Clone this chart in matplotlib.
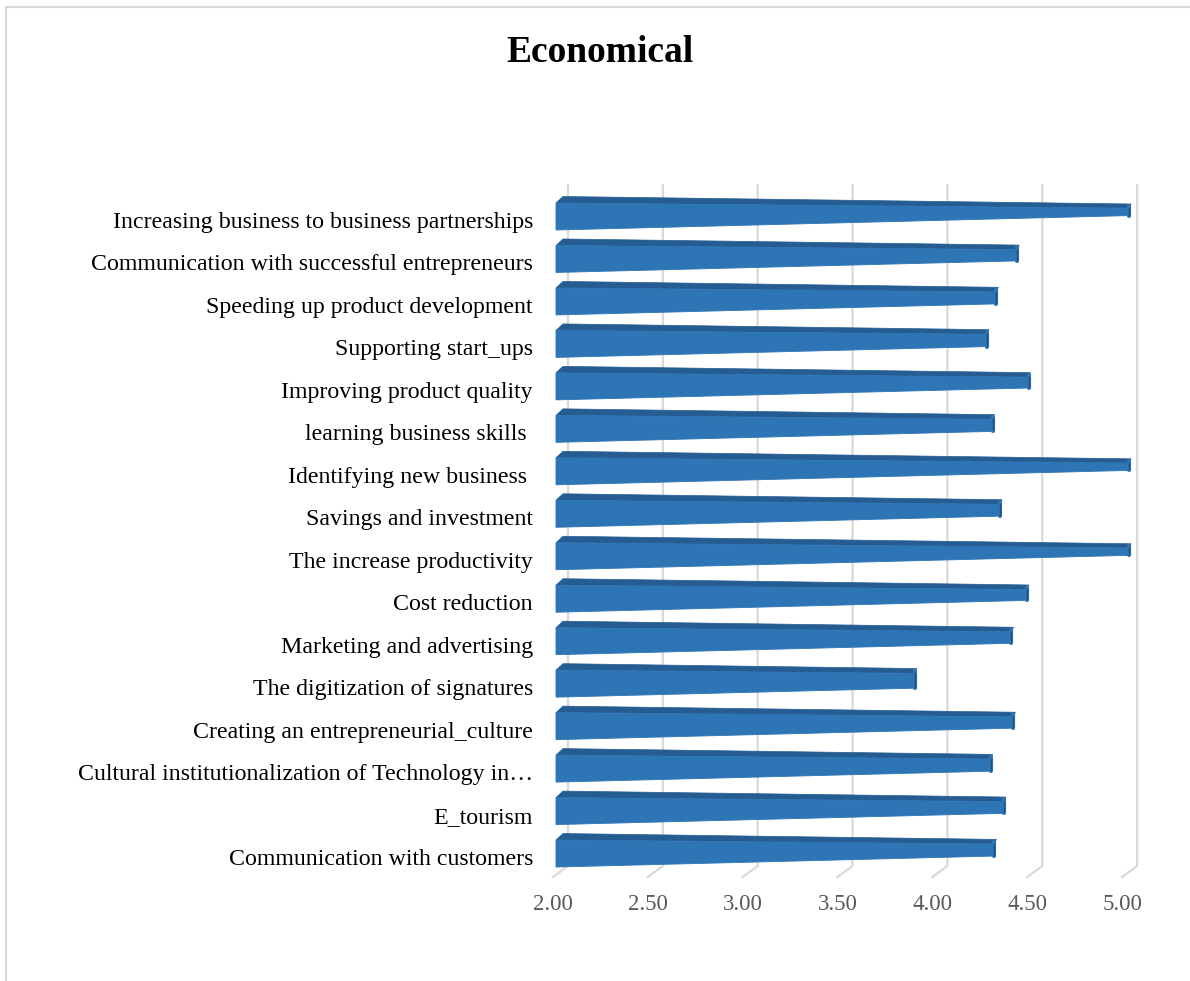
import matplotlib.pyplot as plt
from matplotlib.patches import Polygon
from matplotlib.lines import Line2D

# data (top to bottom, as shown)
categories = [
    "Increasing business to business partnerships",
    "Communication with successful entrepreneurs",
    "Speeding up product development",
    "Supporting start_ups",
    "Improving product quality",
    "learning business skills ",
    "Identifying new business ",
    "Savings and investment",
    "The increase productivity",
    "Cost reduction",
    "Marketing and advertising",
    "The digitization of signatures",
    "Creating an entrepreneurial_culture",
    "Cultural institutionalization of Technology in\u2026",
    "E_tourism",
    "Communication with customers",
]
values = [5.00, 4.41, 4.30, 4.25, 4.47, 4.28, 5.00, 4.32,
          5.00, 4.46, 4.38, 3.87, 4.39, 4.27, 4.34, 4.29]
ticks = [2.0, 2.5, 3.0, 3.5, 4.0, 4.5, 5.0]
tick_labels = ["2.00", "2.50", "3.00", "3.50", "4.00", "4.50", "5.00"]

W, H = 1190, 981
fig = plt.figure(figsize=(W / 100, H / 100), dpi=100)

# axes placed in pixels
ax_l, ax_r, ax_t, ax_b = 540, 1160, 180, 890
ax = fig.add_axes([ax_l / W, 1 - ax_b / H, (ax_r - ax_l) / W, (ax_b - ax_t) / H])
ppu = 189.7      # pixels per unit on x
x0px = 553       # pixel of x=2 on the front floor
row_px = 42.47   # pixels per category row
r0px = 216.5     # pixel of first row centre
xmin = 2 - (x0px - ax_l) / ppu
xmax = 2 + (ax_r - x0px) / ppu
ax.set_xlim(xmin, xmax)
ax.set_ylim((ax_b - r0px) / row_px, (ax_t - r0px) / row_px)
ax.axis("off")
px = 1 / ppu
py = 1 / row_px

front_col = "#2e75b6"
top_col = "#255d93"
edge_col = "#1f4e79"

# gridlines with the perspective floor
for t, lab in zip(ticks, tick_labels):
    ax.plot([t + 15 * px, t + 15 * px, t],
            [(185 - r0px) * py, (866 - r0px) * py, (877 - r0px) * py],
            color="#d9d9d9", lw=1.6, zorder=1)
    ax.text(t, (905 - r0px) * py, lab, ha="center", va="center",
            fontsize=16.5, color="#595959", family="Liberation Serif")

# cone-like bars
for i, (cat, v) in enumerate(zip(categories, values)):
    r = i
    f = (v - 2) / 3
    xl = 2 + 3 * px
    xr = v + 7 * px
    top_l = r - 13.5 * py
    bot_l = r + 13.5 * py
    top_r = r + (-13.5 + 5.2 * f) * py
    bot_r = r + (13.5 - 14.4 * f) * py
    bt_r = 6 * (1 - 0.3 * f) * py
    ax.add_patch(Polygon([(xl, top_l), (xl + 7 * px, top_l - 6.5 * py),
                          (xr + 2 * px, top_r - bt_r), (xr, top_r)],
                         closed=True, fc=top_col, ec=top_col, lw=0.5, zorder=2))
    ax.add_patch(Polygon([(xl, top_l), (xr, top_r), (xr, bot_r), (xl, bot_l)],
                         closed=True, fc=front_col, ec=front_col, lw=0.6, zorder=3))
    ax.plot([xr, xr], [top_r - bt_r * 0.5, bot_r], color=front_col, lw=3,
            solid_capstyle="round", zorder=3)
    ax.plot([xr, xr], [top_r, bot_r - 1 * py], color=edge_col, lw=1,
            zorder=4)
    ax.text(2 + (533 - x0px) * px, r + 6 * py, cat, ha="right", va="center",
            fontsize=17.2, color="black", family="Liberation Serif")

fig.text(600 / W, 1 - 53 / H, "Economical", ha="center", va="center",
         fontsize=27, fontweight="bold", family="Liberation Serif")

# chart border
fig.add_artist(Line2D([6 / W, 6 / W], [0, 1 - 7 / H], color="#d9d9d9", lw=1.5))
fig.add_artist(Line2D([6 / W, 1], [1 - 7 / H, 1 - 7 / H], color="#d9d9d9", lw=1.5))

fig.savefig("out.png", dpi=100)
